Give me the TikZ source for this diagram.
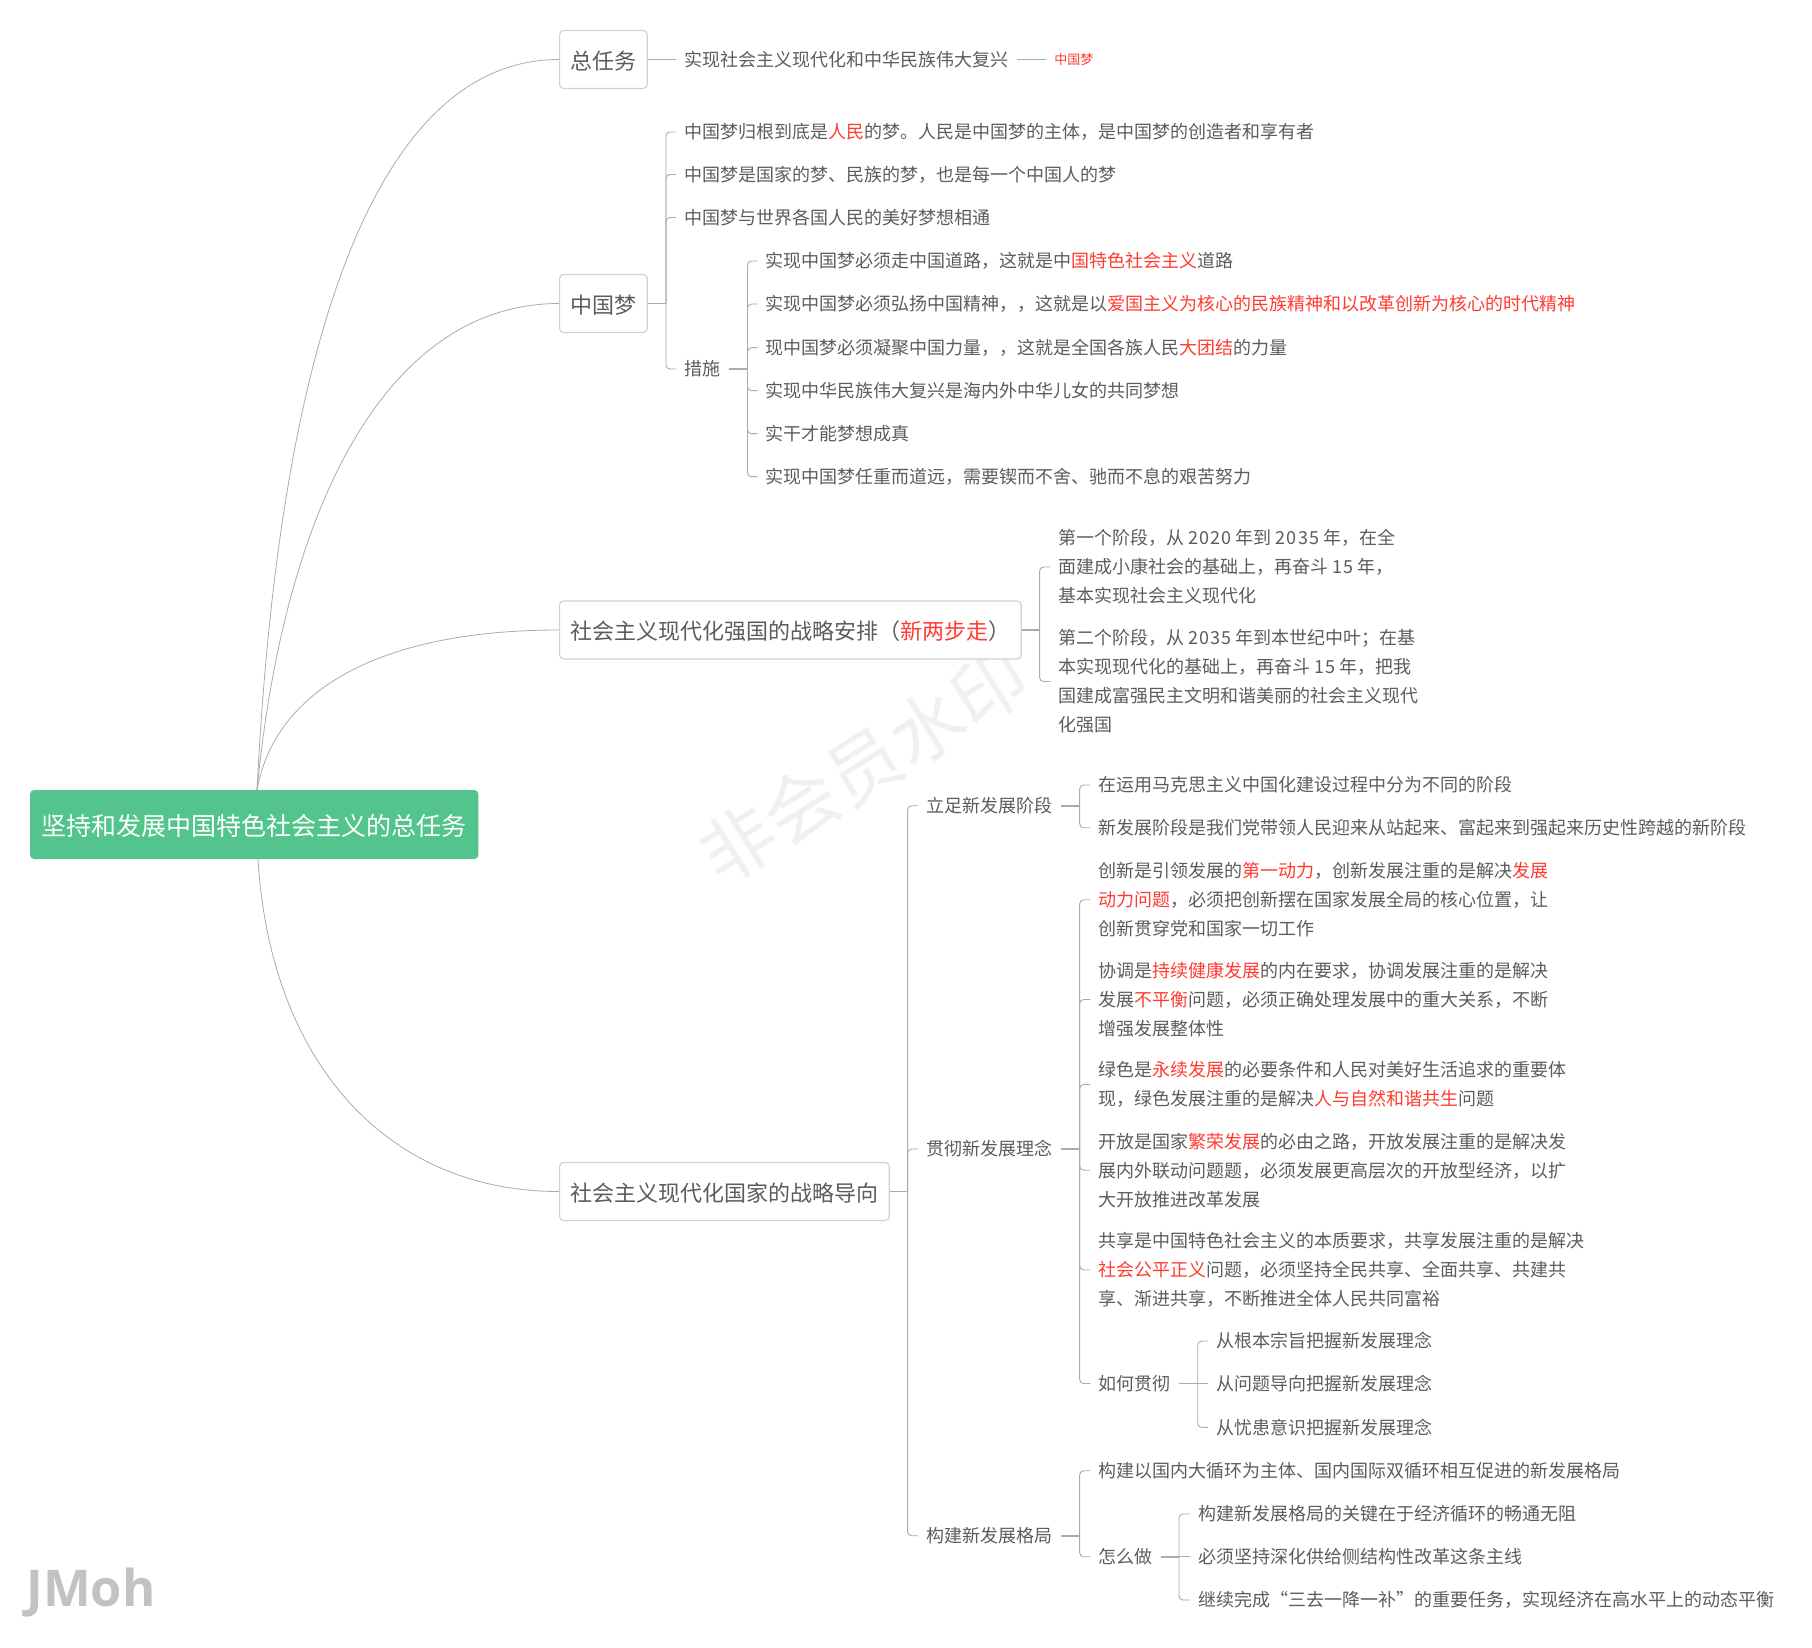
\documentclass[tikz,border=0pt]{standalone}
\usepackage{fontspec}
\setmainfont{Noto Sans CJK SC}
\newfontfamily\markfont{Open Sans}
\newfontfamily\numfont[LetterSpace=6]{Noto Sans CJK SC}
\usepackage{tikz}
\usetikzlibrary{positioning}

\definecolor{inkgray}{HTML}{5C5C5C}
\definecolor{hlred}{HTML}{FF3B30}
\definecolor{rootgreen}{HTML}{52C48C}
\definecolor{linegray}{HTML}{ABABAB}
\definecolor{boxgray}{HTML}{D2D2D2}
\newcommand{\hl}[1]{\textcolor{hlred}{#1}}
\newcommand{\num}[1]{{\numfont #1}}

\tikzset{
  rootbox/.style={fill=rootgreen, text=white, rounded corners=3pt, inner xsep=8.7pt, inner ysep=0pt, text height=18pt, text depth=2pt, minimum height=51.75pt, font=\fontsize{18.75}{24}\selectfont},
  topbox/.style={draw=boxgray, line width=0.9pt, fill=white, rounded corners=3pt, anchor=west, inner xsep=8.1pt, inner ysep=0pt, text height=16pt, text depth=1.4pt, minimum height=43.5pt, text=inkgray, font=\fontsize{16.5}{22}\selectfont},
  leaf/.style={anchor=west, align=left, inner xsep=6pt, inner ysep=2pt, text=inkgray, font=\fontsize{13.5}{21.75}\selectfont},
  tagleaf/.style={anchor=west, inner xsep=6pt, inner ysep=2pt, text=hlred, font=\fontsize{9.75}{12}\selectfont},
  branch/.style={draw=linegray, line width=0.6pt},
  stem/.style={draw=linegray, line width=1.2pt},
  twig/.style={draw=linegray, line width=0.7pt, rounded corners=3pt}
}

\begin{document}
\begin{tikzpicture}[x=0.75pt,y=-0.75pt]
\useasboundingbox (0,0) rectangle (1812,1647);

\node[rotate=32, text=black!6, font=\fontsize{55.5}{60}\selectfont] (mark) at (864,766) {非会员水印};
\node[anchor=west, inner sep=0pt, text=black!24, font=\markfont\bfseries\fontsize{38}{44}\selectfont] (jmoh) at (26,1593) {JMoh};

\node[rootbox] (root) at (254.25,824.5) {坚持和发展中国特色社会主义的总任务};
\coordinate (rootN) at (257,790);
\coordinate (rootS) at (258,859);

\node[topbox] (zong) at (559,59.5) {总任务};
\node[topbox] (meng) at (559,303.5) {中国梦};
\node[topbox] (anpai) at (559,630) {社会主义现代化强国的战略安排（\hl{新两步走}）};
\node[topbox] (daoxiang) at (559,1191.5) {社会主义现代化国家的战略导向};

\draw[branch] (rootN) .. controls (280,330) and (380,59.5) .. (zong.west);
\draw[branch] (rootN) .. controls (285,500) and (390,303.5) .. (meng.west);
\draw[branch] (rootN) .. controls (275,690) and (380,630) .. (anpai.west);
\draw[branch] (rootS) .. controls (270,1060) and (385,1191.5) .. (daoxiang.west);

\node[leaf] (zongA) at (676,59.5) {实现社会主义现代化和中华民族伟大复兴};
\node[tagleaf] (zongB) at (1046,59.5) {中国梦};
\draw[stem] (zong.east) -- (zongA.west);
\draw[stem] (zongA.east) -- (zongB.west);

\coordinate (mengJ) at (666,303.5);
\node[leaf] (mengA) at (676,132) {中国梦归根到底是\hl{人民}的梦。人民是中国梦的主体，是中国梦的创造者和享有者};
\node[leaf] (mengB) at (676,174.5) {中国梦是国家的梦、民族的梦，也是每一个中国人的梦};
\node[leaf] (mengC) at (676,217.5) {中国梦与世界各国人民的美好梦想相通};
\node[leaf] (mengD) at (676,369) {措施};
\draw[stem] (meng.east) -- (mengJ);
\draw[twig] (mengJ) |- (mengA.west);
\draw[twig] (mengJ) |- (mengB.west);
\draw[twig] (mengJ) |- (mengC.west);
\draw[twig] (mengJ) |- (mengD.west);

\coordinate (cuoJ) at (747.5,369);
\node[leaf] (cuoA) at (757.6,261) {实现中国梦必须走中国道路，这就是中\hl{国特色社会主义}道路};
\node[leaf] (cuoB) at (757.6,304) {实现中国梦必须弘扬中国精神，，这就是以\hl{爱国主义为核心的民族精神和以改革创新为核心的时代精神}};
\node[leaf] (cuoC) at (757.6,347.7) {现中国梦必须凝聚中国力量，，这就是全国各族人民\hl{大团结}的力量};
\node[leaf] (cuoD) at (757.6,390.7) {实现中华民族伟大复兴是海内外中华儿女的共同梦想};
\node[leaf] (cuoE) at (757.6,433.7) {实干才能梦想成真};
\node[leaf] (cuoF) at (757.6,476.7) {实现中国梦任重而道远，需要锲而不舍、驰而不息的艰苦努力};
\draw[stem] (mengD.east) -- (cuoJ);
\draw[twig] (cuoJ) |- (cuoA.west);
\draw[twig] (cuoJ) |- (cuoB.west);
\draw[twig] (cuoJ) |- (cuoC.west);
\draw[twig] (cuoJ) |- (cuoD.west);
\draw[twig] (cuoJ) |- (cuoE.west);
\draw[twig] (cuoJ) |- (cuoF.west);

\coordinate (anpaiJ) at (1039.6,630);
\node[leaf] (anpaiA) at (1050.3,567) {第一个阶段，从 \num{2020} 年到 \num{2035} 年，在全\\面建成小康社会的基础上，再奋斗 \num{15} 年，\\基本实现社会主义现代化};
\node[leaf] (anpaiB) at (1050.3,681.5) {第二个阶段，从 \num{2035} 年到本世纪中叶；在基\\本实现现代化的基础上，再奋斗 \num{15} 年，把我\\国建成富强民主文明和谐美丽的社会主义现代\\化强国};
\draw[stem] (anpai.east) -- (anpaiJ);
\draw[twig] (anpaiJ) |- (anpaiA.west);
\draw[twig] (anpaiJ) |- (anpaiB.west);

\coordinate (daoJ) at (907.6,1191.5);
\node[leaf] (daoA) at (918,805.7) {立足新发展阶段};
\node[leaf] (daoB) at (918,1149) {贯彻新发展理念};
\node[leaf] (daoC) at (918,1535.7) {构建新发展格局};
\draw[stem] (daoxiang.east) -- (daoJ);
\draw[twig] (daoJ) |- (daoA.west);
\draw[twig] (daoJ) |- (daoB.west);
\draw[twig] (daoJ) |- (daoC.west);

\coordinate (liJ) at (1079.7,805.7);
\node[leaf] (liA) at (1090,785) {在运用马克思主义中国化建设过程中分为不同的阶段};
\node[leaf] (liB) at (1090,827.7) {新发展阶段是我们党带领人民迎来从站起来、富起来到强起来历史性跨越的新阶段};
\draw[stem] (daoA.east) -- (liJ);
\draw[twig] (liJ) |- (liA.west);
\draw[twig] (liJ) |- (liB.west);

\coordinate (guanJ) at (1079.7,1149);
\node[leaf] (guanA) at (1090,899.7) {创新是引领发展的\hl{第一动力}，创新发展注重的是解决\hl{发展}\\\hl{动力问题}，必须把创新摆在国家发展全局的核心位置，让\\创新贯穿党和国家一切工作};
\node[leaf] (guanB) at (1090,999.5) {协调是\hl{持续健康发展}的内在要求，协调发展注重的是解决\\发展\hl{不平衡}问题，必须正确处理发展中的重大关系，不断\\增强发展整体性};
\node[leaf] (guanC) at (1090,1084.5) {绿色是\hl{永续发展}的必要条件和人民对美好生活追求的重要体\\现，绿色发展注重的是解决\hl{人与自然和谐共生}问题};
\node[leaf] (guanD) at (1090,1170.2) {开放是国家\hl{繁荣发展}的必由之路，开放发展注重的是解决发\\展内外联动问题题，必须发展更高层次的开放型经济，以扩\\大开放推进改革发展};
\node[leaf] (guanE) at (1090,1270) {共享是中国特色社会主义的本质要求，共享发展注重的是解决\\\hl{社会公平正义}问题，必须坚持全民共享、全面共享、共建共\\享、渐进共享，不断推进全体人民共同富裕};
\node[leaf] (guanF) at (1090,1383.5) {如何贯彻};
\draw[stem] (daoB.east) -- (guanJ);
\draw[twig] (guanJ) |- (guanA.west);
\draw[twig] (guanJ) |- (guanB.west);
\draw[twig] (guanJ) |- (guanC.west);
\draw[twig] (guanJ) |- (guanD.west);
\draw[twig] (guanJ) |- (guanE.west);
\draw[twig] (guanJ) |- (guanF.west);

\coordinate (ruJ) at (1197.7,1383.5);
\node[leaf] (ruA) at (1207.8,1341) {从根本宗旨把握新发展理念};
\node[leaf] (ruB) at (1207.8,1383.5) {从问题导向把握新发展理念};
\node[leaf] (ruC) at (1207.8,1427.3) {从忧患意识把握新发展理念};
\draw[stem] (guanF.east) -- (ruJ);
\draw[twig] (ruJ) |- (ruA.west);
\draw[twig] (ruJ) -- (ruB.west);
\draw[twig] (ruJ) |- (ruC.west);

\coordinate (gouJ) at (1079.7,1535.7);
\node[leaf] (gouA) at (1090,1470.7) {构建以国内大循环为主体、国内国际双循环相互促进的新发展格局};
\node[leaf] (gouB) at (1090,1556.7) {怎么做};
\draw[stem] (daoC.east) -- (gouJ);
\draw[twig] (gouJ) |- (gouA.west);
\draw[twig] (gouJ) |- (gouB.west);

\coordinate (zenJ) at (1179,1556.7);
\node[leaf] (zenA) at (1189.8,1514) {构建新发展格局的关键在于经济循环的畅通无阻};
\node[leaf] (zenB) at (1189.8,1556.7) {必须坚持深化供给侧结构性改革这条主线};
\node[leaf] (zenC) at (1189.8,1600) {继续完成“三去一降一补”的重要任务，实现经济在高水平上的动态平衡};
\draw[stem] (gouB.east) -- (zenJ);
\draw[twig] (zenJ) |- (zenA.west);
\draw[twig] (zenJ) -- (zenB.west);
\draw[twig] (zenJ) |- (zenC.west);
\end{tikzpicture}
\end{document}
